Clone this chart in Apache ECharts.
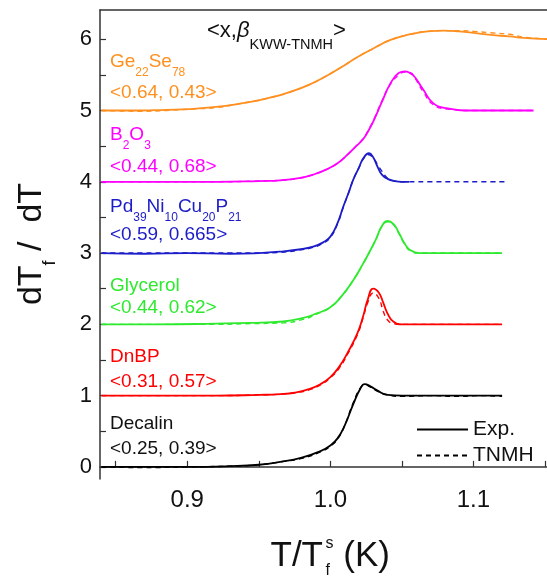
<!DOCTYPE html>
<html>
<head>
<meta charset="utf-8">
<script src="https://cdn.jsdelivr.net/npm/echarts@6.0.0/dist/echarts.min.js"></script>
<style>
  html, body { margin: 0; padding: 0; background: #fff; }
  #chart { width: 547px; height: 577px; }
</style>
</head>
<body>
<div id="chart"></div>
<script>
// axis ticks
const xTickValues = [0.85, 0.9, 0.95, 1.0, 1.05, 1.1, 1.15];
const xLabelValues = [0.9, 1.0, 1.1];
const yTickValues = [0, 0.5, 1, 1.5, 2, 2.5, 3, 3.5, 4, 4.5, 5, 5.5, 6];
const yLabelValues = [0, 1, 2, 3, 4, 5, 6];

// Decalin (offset 0)
const xDecalin = [0.84, 0.87, 0.90, 0.93, 0.95, 0.965, 0.98, 0.993, 1.0, 1.005, 1.01, 1.016, 1.021, 1.024, 1.028, 1.033, 1.04, 1.05, 1.07, 1.09, 1.105, 1.12];
const expDecalin = [0.0, 0.0, 0.0, 0.01, 0.03, 0.07, 0.13, 0.22, 0.3, 0.4, 0.58, 0.88, 1.1, 1.16, 1.13, 1.07, 1.01, 1.0, 1.0, 1.0, 1.0, 1.0];
const tnmhDecalin = [0.0, -0.01, 0.0, 0.01, 0.03, 0.07, 0.12, 0.21, 0.29, 0.39, 0.58, 0.9, 1.11, 1.15, 1.12, 1.06, 1.01, 0.99, 1.0, 0.99, 1.0, 0.99];

// DnBP (offset 1)
const xDnBP = [0.84, 0.88, 0.92, 0.95, 0.965, 0.975, 0.985, 0.993, 1.0, 1.006, 1.012, 1.019, 1.023, 1.026, 1.03, 1.034, 1.037, 1.04, 1.044, 1.05, 1.07, 1.09, 1.105, 1.12];
const expDnBP = [1.0, 1.0, 1.0, 1.01, 1.02, 1.04, 1.09, 1.16, 1.26, 1.4, 1.6, 1.88, 2.12, 2.34, 2.5, 2.44, 2.3, 2.15, 2.04, 2.0, 2.0, 2.0, 2.0, 2.0];
const tnmhDnBP = [1.0, 1.0, 1.0, 1.01, 1.02, 1.04, 1.08, 1.15, 1.25, 1.38, 1.58, 1.86, 2.1, 2.3, 2.44, 2.36, 2.18, 2.06, 2.01, 2.0, 2.0, 2.0, 2.0, 2.0];

// Glycerol (offset 2)
const xGlycerol = [0.84, 0.88, 0.92, 0.944, 0.967, 0.981, 0.99, 1.0, 1.008, 1.016, 1.022, 1.028, 1.032, 1.036, 1.04, 1.044, 1.048, 1.052, 1.056, 1.062, 1.07, 1.09, 1.105, 1.12];
const expGlycerol = [2.0, 2.0, 2.01, 2.02, 2.04, 2.09, 2.15, 2.24, 2.4, 2.62, 2.82, 3.04, 3.2, 3.38, 3.45, 3.41, 3.28, 3.13, 3.04, 3.0, 3.0, 3.0, 3.0, 3.0];
const tnmhGlycerol = [2.0, 2.0, 2.0, 2.01, 2.02, 2.07, 2.14, 2.24, 2.4, 2.62, 2.82, 3.04, 3.2, 3.37, 3.44, 3.40, 3.27, 3.12, 3.03, 3.0, 3.0, 3.0, 3.0, 3.0];

// Pd39Ni10Cu20P21 (offset 3), exp. stops at 1.055
const xPd = [0.84, 0.87, 0.9, 0.93, 0.95, 0.965, 0.978, 0.988, 0.995, 1.0, 1.005, 1.009, 1.013, 1.016, 1.02, 1.023, 1.027, 1.03, 1.033, 1.036, 1.04, 1.045, 1.05, 1.055, 1.07, 1.09, 1.105, 1.124];
const expPd = [3.0, 2.99, 3.0, 2.99, 3.0, 3.02, 3.05, 3.09, 3.15, 3.23, 3.42, 3.65, 3.86, 4.03, 4.2, 4.33, 4.40, 4.34, 4.21, 4.10, 4.04, 4.01, 4.0, 4.0, null, null, null, null];
const tnmhPd = [3.0, 3.0, 3.0, 3.0, 3.0, 3.01, 3.04, 3.08, 3.14, 3.22, 3.41, 3.64, 3.86, 4.03, 4.2, 4.32, 4.38, 4.33, 4.24, 4.15, 4.05, 4.01, 4.0, 4.0, 4.0, 4.0, 4.0, 4.0];

// B2O3 (offset 4)
const xB2O3 = [0.84, 0.88, 0.92, 0.95, 0.965, 0.978, 0.988, 0.997, 1.005, 1.012, 1.018, 1.023, 1.027, 1.031, 1.036, 1.042, 1.048, 1.052, 1.056, 1.059, 1.065, 1.072, 1.082, 1.1, 1.12, 1.142];
const expB2O3 = [4.0, 4.0, 4.0, 4.01, 4.02, 4.05, 4.1, 4.17, 4.26, 4.38, 4.5, 4.6, 4.73, 4.89, 5.12, 5.38, 5.53, 5.55, 5.52, 5.47, 5.29, 5.1, 5.03, 5.0, 5.0, 5.0];
const tnmhB2O3 = [4.0, 4.0, 4.0, 4.01, 4.02, 4.05, 4.1, 4.17, 4.26, 4.38, 4.5, 4.61, 4.74, 4.9, 5.13, 5.37, 5.5, 5.54, 5.53, 5.46, 5.26, 5.08, 5.02, 5.0, 5.0, 5.0];

// Ge22Se78 (offset 5)
const xGeSe = [0.84, 0.867, 0.885, 0.902, 0.92, 0.935, 0.949, 0.962, 0.972, 0.985, 0.995, 1.007, 1.019, 1.03, 1.042, 1.056, 1.068, 1.079, 1.09, 1.1, 1.112, 1.125, 1.135, 1.155];
const expGeSe = [5.0, 5.0, 5.01, 5.02, 5.05, 5.09, 5.14, 5.2, 5.26, 5.36, 5.46, 5.6, 5.75, 5.87, 5.99, 6.07, 6.11, 6.12, 6.11, 6.09, 6.06, 6.04, 6.02, 6.0];
const tnmhGeSe = [5.0, 4.99, 5.0, 5.02, 5.04, 5.09, 5.14, 5.2, 5.26, 5.36, 5.46, 5.6, 5.75, 5.87, 5.99, 6.07, 6.11, 6.12, 6.12, 6.11, 6.09, 6.07, 6.03, 6.0];

const FONT = '"Liberation Sans", Arial, sans-serif';

const materials = [
  { x: xDecalin, exp: expDecalin, tnmh: tnmhDecalin, color: '#000000' },
  { x: xDnBP, exp: expDnBP, tnmh: tnmhDnBP, color: '#ff0000' },
  { x: xGlycerol, exp: expGlycerol, tnmh: tnmhGlycerol, color: '#2eea2e' },
  { x: xPd, exp: expPd, tnmh: tnmhPd, color: '#1c1cc8' },
  { x: xB2O3, exp: expB2O3, tnmh: tnmhB2O3, color: '#ff00ff' },
  { x: xGeSe, exp: expGeSe, tnmh: tnmhGeSe, color: '#ff9020' }
];

function pairs(xs, ys) {
  const out = [];
  xs.forEach((v, i) => { if (ys[i] != null) out.push([v, ys[i]]); });
  return out;
}

let series = [];
// dashed model curves underneath, measured curves on top
materials.forEach(m => {
  series.push({
    type: 'line', data: pairs(m.x, m.tnmh), symbol: 'none', smooth: 0.5,
    lineStyle: { color: m.color, width: 1.4, type: [5, 4] }, z: 2, silent: true
  });
});
materials.forEach(m => {
  series.push({
    type: 'line', data: pairs(m.x, m.exp), symbol: 'none', smooth: 0.5,
    lineStyle: { color: m.color, width: 1.8 }, z: 3, silent: true
  });
});
// legend only
series.push({ name: 'Exp.', type: 'line', data: [], symbol: 'none', symbolSize: 0, itemStyle: { color: '#000', opacity: 0 }, lineStyle: { color: '#000', width: 1.8, opacity: 1 } });
series.push({ name: 'TNMH', type: 'line', data: [], symbol: 'none', symbolSize: 0, itemStyle: { color: '#000', opacity: 0 }, lineStyle: { color: '#000', width: 1.4, type: [5, 4], opacity: 1 } });

// text helpers
const rich19 = {
  m: { fontSize: 19, lineHeight: 34, fontFamily: FONT },
  s: { fontSize: 12, lineHeight: 12, verticalAlign: 'bottom', fontFamily: FONT }
};
function label(text, x, y, color) {
  return { type: 'text', x: x, y: y, z: 10, silent: true,
    style: { text: text, fill: color, align: 'left', verticalAlign: 'middle', rich: rich19 } };
}

const mctx = document.createElement('canvas').getContext('2d');
function tw(s, size) { mctx.font = size + 'px ' + FONT; return mctx.measureText(s).width; }
const wa = tw('T/T', 36), wsf = tw('s', 16);
const totalX = wa + 1 + wsf + tw(' (K)', 36);
const xt0 = 331 - totalX / 2;

const graphic = [
  { type: 'text', x: 207, y: 31, z: 10, silent: true,
    style: { text: '{m|<x,}{b|β}{s|KWW-TNMH}{m|>}', fill: '#111', align: 'left', verticalAlign: 'middle',
      rich: {
        m: { fontSize: 22, lineHeight: 42, fontFamily: FONT },
        b: { fontSize: 22, lineHeight: 42, fontFamily: FONT, fontStyle: 'italic' },
        s: { fontSize: 14.5, lineHeight: 14, verticalAlign: 'bottom', fontFamily: FONT }
      } } },
  label('{m|Ge}{s|22}{m|Se}{s|78}', 110, 62, '#ff9020'),
  label('{m|<0.64, 0.43>}', 110, 93, '#ff9020'),
  label('{m|B}{s|2}{m|O}{s|3}', 110, 135, '#ff00ff'),
  label('{m|<0.44, 0.68>}', 110, 167, '#ff00ff'),
  label('{m|Pd}{s|39}{m|Ni}{s|10}{m|Cu}{s|20}{m|P}{s|21}', 110, 207, '#1c1cc8'),
  label('{m|<0.59, 0.665>}', 110, 235, '#1c1cc8'),
  label('{m|Glycerol}', 110, 286, '#2eea2e'),
  label('{m|<0.44, 0.62>}', 110, 308, '#2eea2e'),
  label('{m|DnBP}', 110, 357, '#ff0000'),
  label('{m|<0.31, 0.57>}', 110, 382, '#ff0000'),
  label('{m|Decalin}', 110, 424, '#111'),
  label('{m|<0.25, 0.39>}', 110, 449, '#111'),
  // y axis title
  { type: 'text', x: 32, y: 244, rotation: Math.PI / 2, silent: true,
    style: { text: '{m|dT}{s|f}{m| /  dT}', fill: '#111', align: 'center', verticalAlign: 'middle',
      rich: {
        m: { fontSize: 34, lineHeight: 54, fontFamily: FONT },
        s: { fontSize: 18, lineHeight: 18, verticalAlign: 'bottom', fontFamily: FONT }
      } } },
  // x axis title
  { type: 'text', x: xt0, y: 556, silent: true, style: { text: 'T/T', fill: '#111', fontSize: 35, fontFamily: FONT, align: 'left', verticalAlign: 'middle' } },
  { type: 'text', x: xt0 + wa + 1, y: 544, silent: true, style: { text: 's', fill: '#111', fontSize: 16, fontFamily: FONT, align: 'left', verticalAlign: 'middle' } },
  { type: 'text', x: xt0 + wa + 1, y: 571, silent: true, style: { text: 'f', fill: '#111', fontSize: 16, fontFamily: FONT, align: 'left', verticalAlign: 'middle' } },
  { type: 'text', x: xt0 + wa + 1 + wsf, y: 556, silent: true, style: { text: ' (K)', fill: '#111', fontSize: 35, fontFamily: FONT, align: 'left', verticalAlign: 'middle' } }
];

const axisLineStyle = { color: '#333', width: 1.5 };

const chart = echarts.init(document.getElementById('chart'));
chart.setOption({
  animation: false,
  backgroundColor: '#fff',
  grid: { left: 100, right: 0, top: 10, bottom: 98, containLabel: false, outerBoundsMode: 'none' },
  legend: {
    left: 411, top: 414, orient: 'vertical', itemWidth: 51, itemHeight: 14, itemGap: 5,
    selectedMode: false, data: ['Exp.', 'TNMH'],
    itemStyle: { opacity: 0 },
    textStyle: { fontSize: 21, color: '#111', fontFamily: FONT }
  },
  xAxis: [
    {
      type: 'value', position: 'bottom', min: 0.839, max: 1.1514,
      axisLine: { show: true, lineStyle: axisLineStyle },
      axisTick: { show: true, inside: true, length: 6, customValues: xTickValues, lineStyle: { color: '#333', width: 1.2 } },
      axisLabel: { customValues: xLabelValues, formatter: v => v.toFixed(1), fontSize: 24, color: '#111', fontFamily: FONT, margin: 9 },
      splitLine: { show: false }
    },
    {
      type: 'value', position: 'top', min: 0.839, max: 1.1514,
      axisLine: { show: true, lineStyle: axisLineStyle },
      axisTick: { show: false }, axisLabel: { show: false }, splitLine: { show: false }
    }
  ],
  yAxis: {
    type: 'value', min: -0.17, max: 6.41,
    axisLine: { show: true, lineStyle: axisLineStyle },
    axisTick: { show: true, inside: true, length: 6, customValues: yTickValues, lineStyle: { color: '#333', width: 1.2 } },
    axisLabel: { customValues: yLabelValues, fontSize: 22, color: '#111', fontFamily: FONT, margin: 8 },
    splitLine: { show: false }
  },
  graphic: graphic,
  series: series
});
</script>
</body>
</html>
